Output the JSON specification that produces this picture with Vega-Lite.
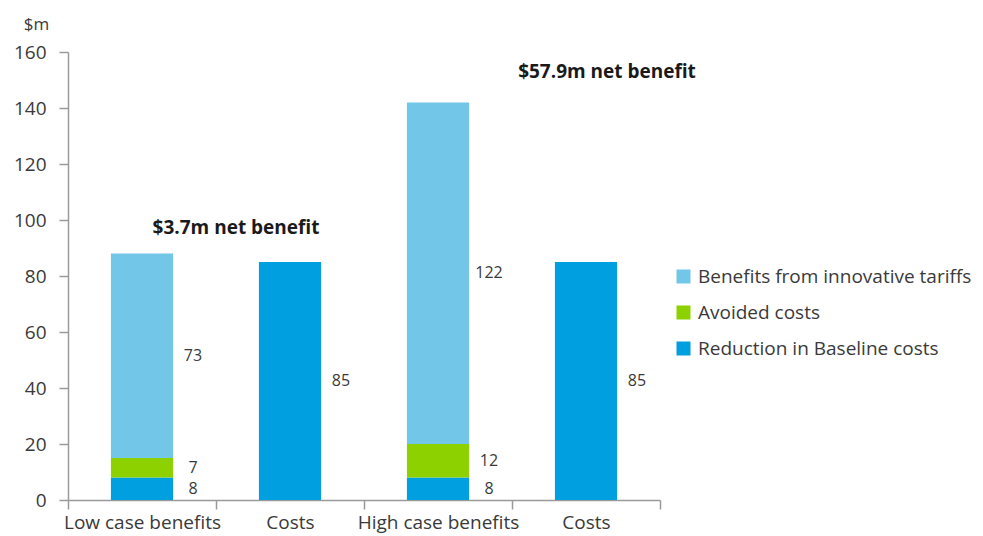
{
  "$schema": "https://vega.github.io/schema/vega-lite/v6.json",
  "width": 592,
  "height": 448,
  "autosize": {"type": "none"},
  "padding": {"left": 68, "top": 52, "right": 323, "bottom": 36},
  "config": {
    "font": "Open Sans",
    "view": {"stroke": null},
    "axis": {"grid": false, "domainColor": "#9a9a9a", "tickColor": "#9a9a9a", "labelColor": "#3a3a3a", "labelFontSize": 19, "tickSize": 9, "domainWidth": 1.5, "tickWidth": 1.5},
    "legend": {"orient": "none", "legendX": 606, "legendY": 215, "symbolType": "square", "symbolSize": 196, "symbolStrokeWidth": 0, "labelFontSize": 19, "labelColor": "#3a3a3a", "rowPadding": 16, "labelOffset": 5, "labelLimit": 400}
  },
  "data": {
    "values": [
      {"cat": "Low case benefits", "series": "Reduction in Baseline costs", "seg": 1, "value": 8},
      {"cat": "Low case benefits", "series": "Avoided costs", "seg": 2, "value": 7},
      {"cat": "Low case benefits", "series": "Benefits from innovative tariffs", "seg": 3, "value": 73},
      {"cat": "Costs (low)", "series": "Costs", "seg": 1, "value": 85},
      {"cat": "High case benefits", "series": "Reduction in Baseline costs", "seg": 1, "value": 8},
      {"cat": "High case benefits", "series": "Avoided costs", "seg": 2, "value": 12},
      {"cat": "High case benefits", "series": "Benefits from innovative tariffs", "seg": 3, "value": 122},
      {"cat": "Costs (high)", "series": "Costs", "seg": 1, "value": 85}
    ]
  },
  "encoding": {
    "x": {
      "field": "cat", "type": "nominal", "sort": null,
      "scale": {"paddingInner": 0, "paddingOuter": 0},
      "axis": {"title": null, "labelAngle": 0, "tickBand": "extent", "labelPadding": 4, "labelExpr": "indexof(datum.label, 'Costs') == 0 ? 'Costs' : datum.label"}
    }
  },
  "layer": [
    {
      "mark": {"type": "bar", "width": {"band": 0.42}},
      "encoding": {
        "y": {
          "field": "value", "type": "quantitative", "stack": "zero",
          "scale": {"domain": [0, 160]},
          "axis": {"values": [0, 20, 40, 60, 80, 100, 120, 140, 160], "labelPadding": 13, "title": "$m", "titleAngle": 0, "titleX": -32, "titleY": -28, "titleFontWeight": "normal", "titleFontSize": 17, "titleColor": "#3a3a3a", "titleAlign": "center", "titleBaseline": "middle"}
        },
        "color": {
          "field": "series", "type": "nominal",
          "scale": {
            "domain": ["Benefits from innovative tariffs", "Avoided costs", "Reduction in Baseline costs", "Costs"],
            "range": ["#72C6E8", "#8DD100", "#009FDF", "#009FDF"]
          },
          "legend": {"title": null, "values": ["Benefits from innovative tariffs", "Avoided costs", "Reduction in Baseline costs"]}
        },
        "order": {"field": "seg", "type": "quantitative"}
      }
    },
    {
      "mark": {"type": "text", "dx": 51, "fontSize": 16, "color": "#3a3a3a"},
      "encoding": {
        "y": {"field": "value", "type": "quantitative", "stack": "zero", "bandPosition": 0.5},
        "detail": {"field": "series"},
        "order": {"field": "seg", "type": "quantitative"},
        "text": {"field": "value", "type": "quantitative"}
      }
    },
    {
      "data": {"values": [{"cat": "Costs (low)", "pos": 97, "label": "$3.7m net benefit"}]},
      "mark": {"type": "text", "dx": -54, "fontSize": 19, "fontWeight": "bold", "color": "#1a1a1a"},
      "encoding": {
        "y": {"field": "pos", "type": "quantitative"},
        "text": {"field": "label"}
      }
    },
    {
      "data": {"values": [{"cat": "Costs (high)", "pos": 153, "label": "$57.9m net benefit"}]},
      "mark": {"type": "text", "dx": 21, "fontSize": 19, "fontWeight": "bold", "color": "#1a1a1a"},
      "encoding": {
        "y": {"field": "pos", "type": "quantitative"},
        "text": {"field": "label"}
      }
    }
  ]
}
